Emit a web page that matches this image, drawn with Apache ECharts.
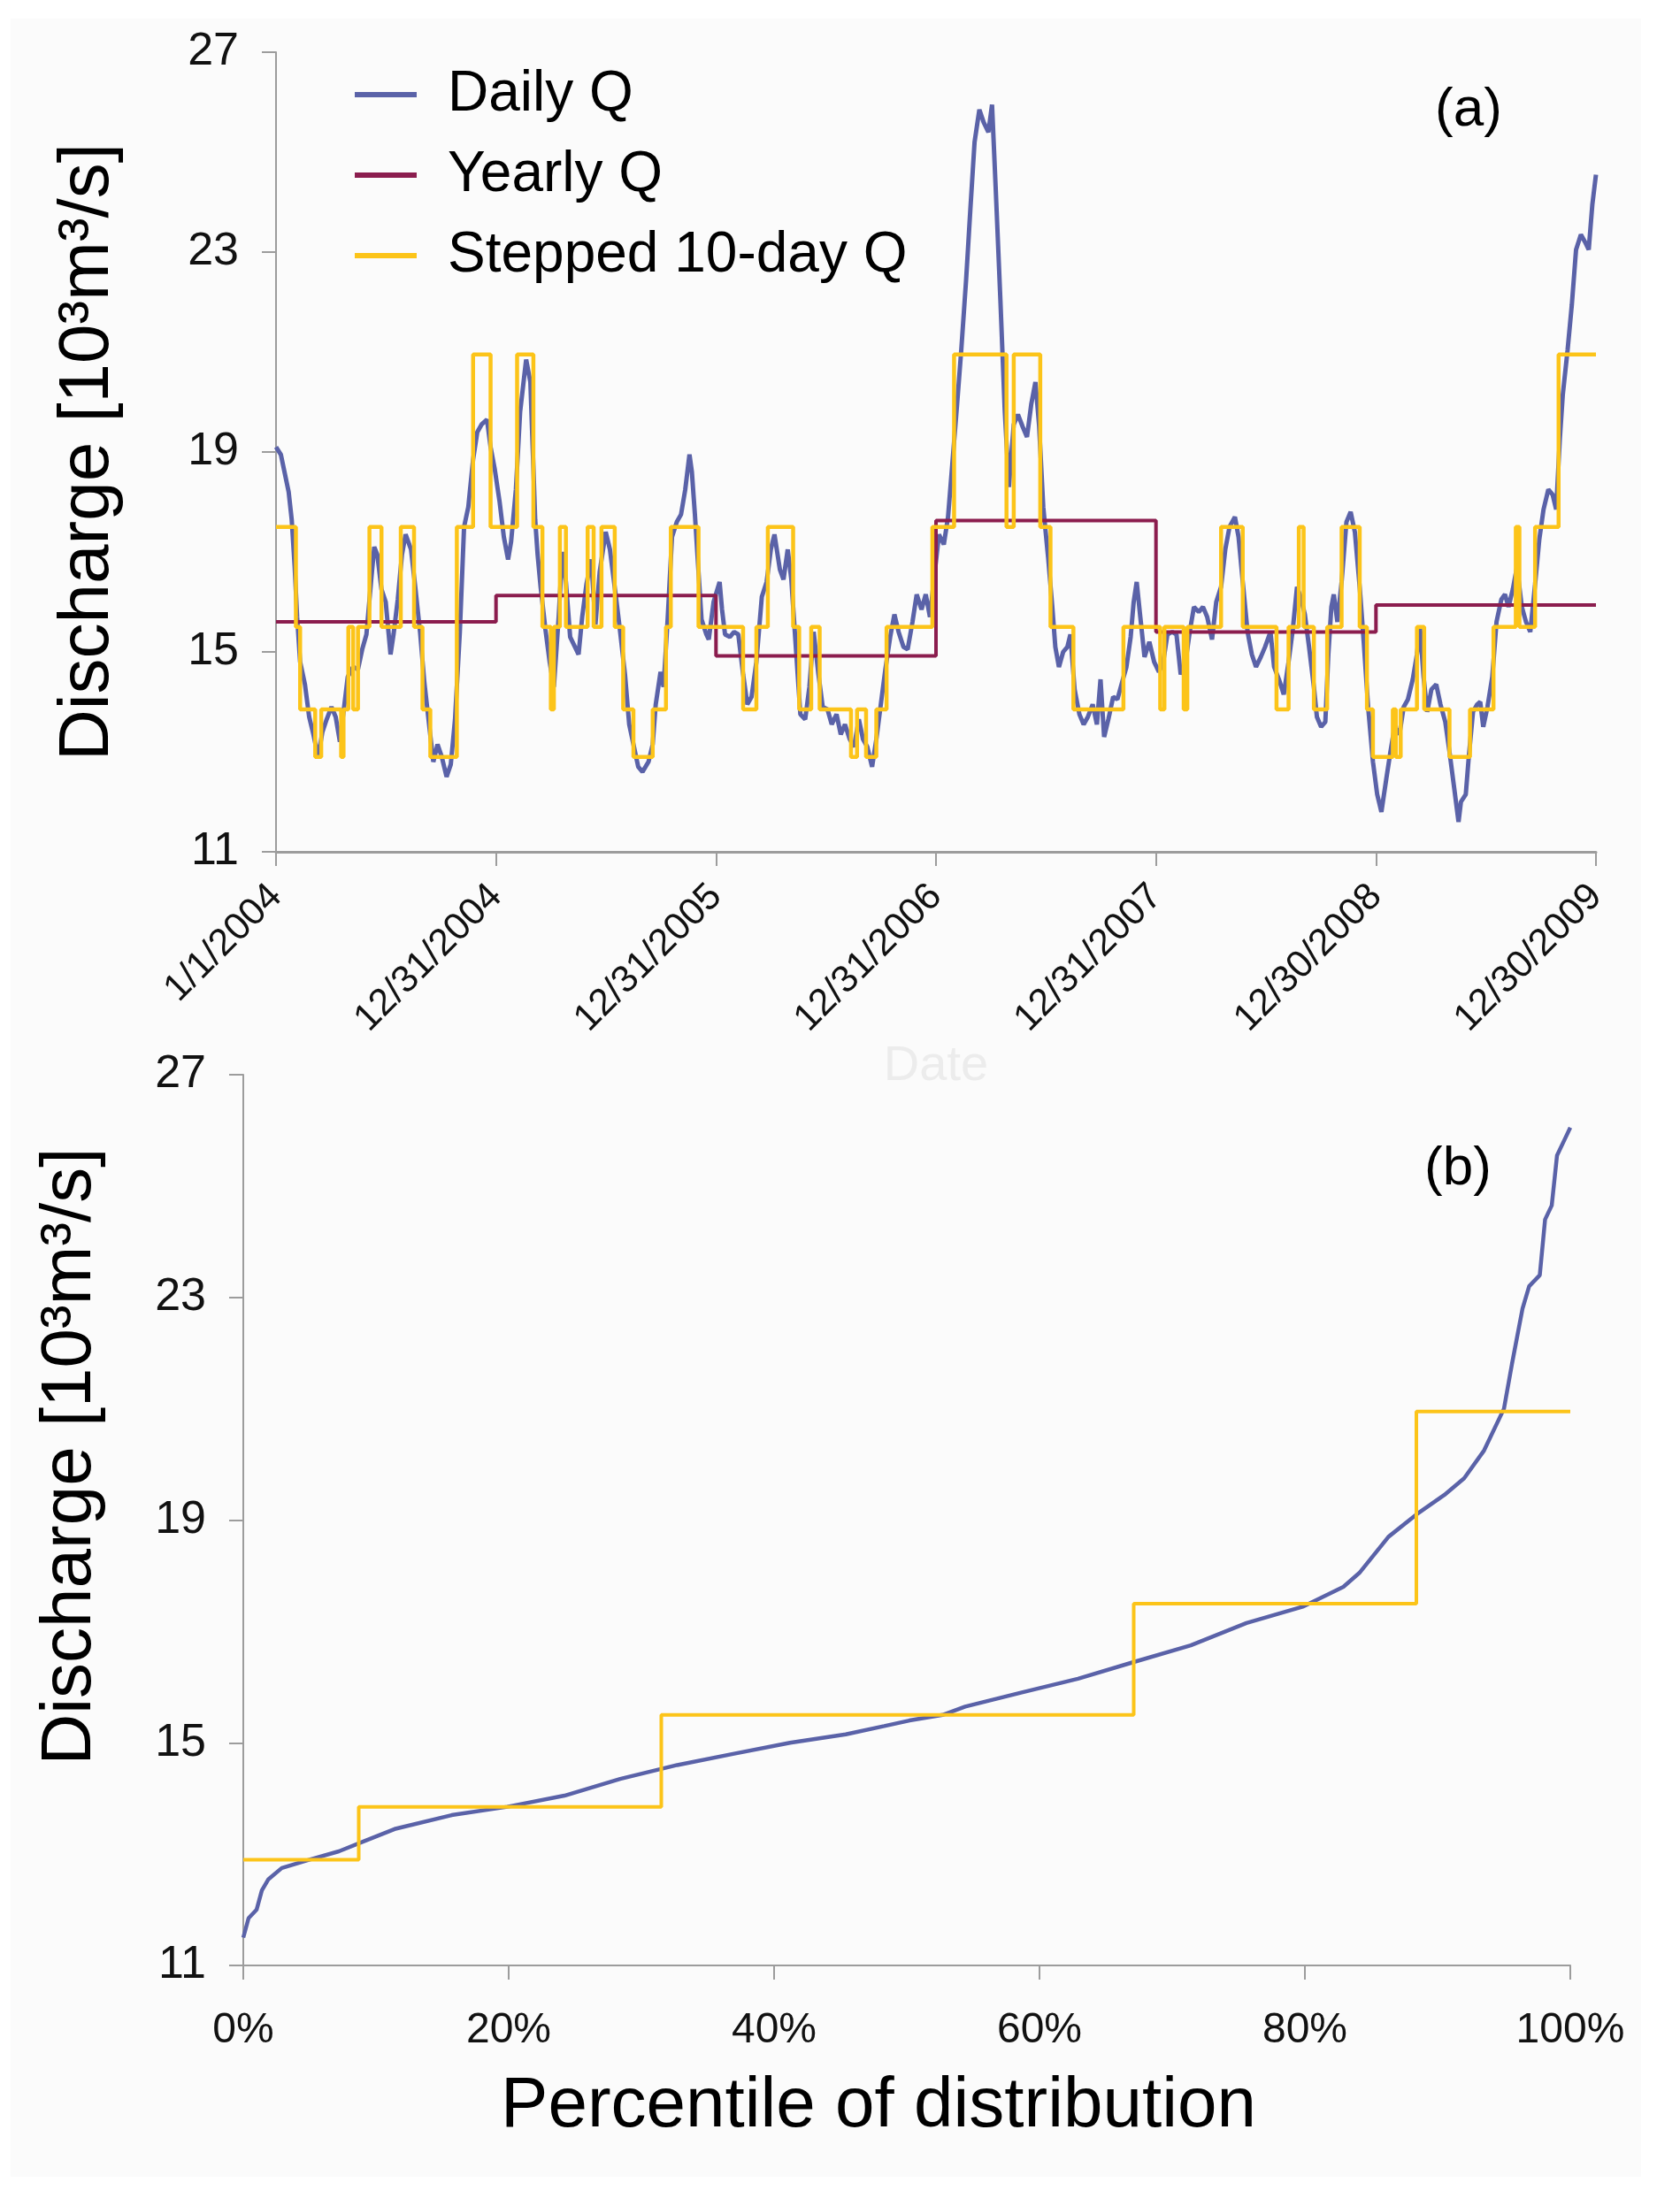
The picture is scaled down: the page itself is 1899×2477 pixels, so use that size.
<!DOCTYPE html>
<html>
<head>
<meta charset="utf-8">
<script src="https://cdn.jsdelivr.net/npm/echarts@6/dist/echarts.min.js"></script>
<style>
  html, body { margin: 0; padding: 0; background: #ffffff; }
  #chart { width: 1899px; height: 2477px; }
</style>
</head>
<body>
<div id="chart"></div>
<script>
// tick labels
var dateLabels = ['1/1/2004', '12/31/2004', '12/31/2005', '12/31/2006', '12/31/2007', '12/30/2008', '12/30/2009'];
var qTicks = [11, 15, 19, 23, 27];

// panel (a): [day since 1/1/2004, discharge 10^3 m3/s]
var dailyQ = [
  [0,19.1],[8,18.95],[21,18.2],[26,17.65],[31,16.7],[35,15.7],[40,14.8],[48,14.35],[55,13.7],[62,13.35],
  [70,12.9],[77,13.4],[84,13.65],[92,13.9],[99,13.7],[106,13.2],[111,13.7],[119,14.5],[128,14.7],[136,14.65],
  [143,15.05],[150,15.35],[158,16.45],[163,17.1],[168,16.95],[175,16.25],[182,16.0],[190,14.95],[195,15.35],
  [202,16.05],[209,16.95],[215,17.35],[224,17.05],[231,16.3],[239,15.4],[246,14.4],[253,13.65],[261,12.8],
  [268,13.15],[275,12.9],[283,12.5],[290,12.75],[297,13.65],[305,15.4],[312,17.5],[319,17.9],[327,18.85],
  [334,19.4],[341,19.55],[350,19.65],[356,19.1],[363,18.65],[371,18.0],[378,17.3],[385,16.85],[390,17.2],
  [398,18.25],[405,19.8],[415,20.85],[422,20.4],[427,18.7],[430,17.65],[434,16.95],[439,16.3],[447,15.45],
  [454,14.8],[461,14.3],[469,15.7],[475,17.0],[481,16.4],[488,15.3],[496,15.1],[502,14.95],[508,15.7],
  [515,16.35],[523,16.85],[530,15.55],[537,16.6],[547,17.4],[554,17.05],[564,16.1],[571,15.4],[579,14.55],
  [586,13.55],[593,13.15],[601,12.7],[608,12.6],[618,12.8],[625,13.15],[630,13.95],[638,14.6],[643,14.3],
  [650,15.7],[657,17.3],[665,17.6],[672,17.75],[679,18.25],[686,18.95],[690,18.6],[695,17.75],[701,16.6],
  [706,15.65],[714,15.35],[718,15.25],[726,16.0],[736,16.4],[740,15.85],[745,15.35],[753,15.3],[760,15.4],
  [767,15.35],[775,14.55],[782,13.95],[789,14.1],[797,14.8],[806,16.1],[814,16.4],[821,17.05],[827,17.35],
  [836,16.65],[842,16.45],[849,17.05],[855,16.45],[863,15.0],[870,13.75],[878,13.65],[885,14.3],[892,15.4],
  [900,14.55],[907,13.9],[915,13.85],[922,13.55],[930,13.75],[937,13.35],[944,13.55],[952,13.25],[959,13.1],
  [967,13.65],[974,13.25],[981,13.1],[989,12.7],[996,13.25],[1004,14.0],[1011,14.65],[1019,15.3],[1026,15.75],
  [1033,15.4],[1041,15.1],[1048,15.05],[1056,15.6],[1063,16.15],[1071,15.85],[1078,16.15],[1085,15.7],
  [1093,16.6],[1100,17.35],[1108,17.15],[1115,17.7],[1122,18.75],[1130,19.95],[1137,21.05],[1145,22.45],
  [1152,23.85],[1159,25.2],[1167,25.85],[1174,25.6],[1182,25.4],[1188,25.95],[1194,24.3],[1202,22.0],
  [1209,19.85],[1216,18.3],[1224,19.55],[1231,19.75],[1239,19.5],[1246,19.3],[1253,19.95],[1260,20.4],
  [1266,19.55],[1273,17.9],[1281,16.9],[1288,15.9],[1293,15.1],[1299,14.7],[1306,15.0],[1313,15.1],
  [1318,15.35],[1325,14.25],[1333,13.75],[1340,13.55],[1347,13.7],[1355,13.95],[1362,13.55],[1368,14.45],
  [1374,13.3],[1381,13.65],[1389,14.1],[1396,14.05],[1404,14.4],[1411,14.7],[1418,15.3],[1423,16.0],
  [1428,16.4],[1434,15.7],[1441,14.9],[1449,15.2],[1457,14.8],[1465,14.6],[1472,14.8],[1479,15.35],
  [1487,15.4],[1494,15.35],[1501,14.55],[1509,14.8],[1516,15.4],[1523,15.9],[1531,15.8],[1538,15.9],
  [1545,15.7],[1553,15.25],[1560,16.0],[1568,16.3],[1575,17.05],[1582,17.5],[1591,17.7],[1597,17.3],
  [1604,16.4],[1612,15.4],[1619,14.95],[1626,14.7],[1634,14.9],[1641,15.1],[1650,15.4],[1656,14.7],
  [1664,14.45],[1672,14.15],[1680,14.8],[1687,15.45],[1694,16.3],[1700,16.1],[1707,15.75],[1714,15.1],
  [1722,14.3],[1727,13.7],[1734,13.5],[1741,13.6],[1746,14.95],[1751,15.9],[1755,16.15],[1761,15.6],
  [1768,16.4],[1776,17.6],[1783,17.8],[1790,17.4],[1798,16.3],[1805,15.15],[1812,13.9],[1820,12.8],
  [1827,12.15],[1834,11.8],[1842,12.45],[1849,13.0],[1856,13.5],[1864,13.35],[1871,13.9],[1878,14.05],
  [1886,14.45],[1893,14.95],[1898,15.5],[1904,14.5],[1910,13.8],[1917,14.25],[1925,14.35],[1932,13.95],
  [1940,13.6],[1947,13.0],[1954,12.35],[1962,11.6],[1966,12.0],[1974,12.15],[1979,12.9],[1986,13.8],
  [1993,13.95],[1998,14.0],[2003,13.5],[2010,13.9],[2018,14.5],[2025,15.6],[2033,16.05],[2039,16.15],
  [2045,15.9],[2052,16.25],[2059,16.7],[2067,15.9],[2074,15.6],[2081,15.4],[2089,16.35],[2096,17.25],
  [2103,17.85],[2111,18.25],[2118,18.15],[2124,17.85],[2130,19.25],[2135,20.15],[2143,21.05],[2150,21.95],
  [2157,23.05],[2165,23.35],[2172,23.2],[2178,23.05],[2184,23.95],[2190,24.55]
];
var yearlyQ = [[0,15.6],[365,16.13],[730,14.92],[1095,17.63],[1460,15.4],[1825,15.94],[2190,15.94]];
var steppedQ = [
  [0,17.5],[33,15.5],[40,13.85],[65,12.9],[75,13.85],[108,12.9],[112,13.85],[120,15.5],[128,13.85],[136,15.5],
  [155,17.5],[175,15.5],[207,17.5],[229,15.5],[243,13.85],[256,12.9],[300,17.5],[327,20.95],[356,17.5],
  [400,20.95],[427,17.5],[442,15.5],[456,13.85],[461,15.5],[471,17.5],[481,15.5],[517,17.5],[527,15.5],
  [540,17.5],[562,15.5],[576,13.85],[593,12.9],[625,13.85],[647,15.5],[655,17.5],[701,15.5],[775,13.85],
  [797,15.5],[816,17.5],[858,15.5],[868,13.85],[888,15.5],[902,13.85],[954,12.9],[964,13.85],[979,12.9],
  [996,13.85],[1013,15.5],[1089,17.5],[1125,20.95],[1212,17.5],[1224,20.95],[1268,17.5],[1285,15.5],
  [1323,13.85],[1406,15.5],[1467,13.85],[1474,15.5],[1506,13.85],[1512,15.5],[1568,17.5],[1604,15.5],
  [1660,13.85],[1680,15.5],[1697,17.5],[1705,15.5],[1722,13.85],[1744,15.5],[1768,17.5],[1798,15.5],
  [1810,13.85],[1820,12.9],[1853,13.85],[1858,12.9],[1866,13.85],[1893,15.5],[1905,13.85],[1947,12.9],
  [1981,13.85],[2020,15.5],[2057,17.5],[2063,15.5],[2089,17.5],[2128,20.95],[2190,20.95]
];

// panel (b): [percentile, discharge]
var durationQ = [
  [0,11.5],[0.4,11.85],[1.0,12.0],[1.4,12.35],[1.9,12.55],[2.9,12.75],[5.0,12.9],[7.2,13.05],[9.3,13.25],
  [11.4,13.45],[15.7,13.7],[19.9,13.85],[24.2,14.05],[28.4,14.35],[32.7,14.6],[36.9,14.8],[41.2,15.0],
  [45.4,15.15],[48.3,15.3],[50.2,15.4],[52.7,15.5],[54.4,15.65],[58.6,15.9],[62.9,16.15],[67.1,16.45],
  [71.4,16.75],[75.6,17.15],[79.9,17.45],[82.9,17.8],[84.1,18.05],[86.3,18.7],[88.4,19.1],[90.5,19.45],
  [92.0,19.75],[93.5,20.25],[95.0,21.0],[95.6,21.8],[96.4,22.8],[96.9,23.2],[97.7,23.4],[98.1,24.4],
  [98.6,24.65],[99.0,25.55],[99.6,25.85],[100,26.05]
];
var durationStep = [[0,12.9],[8.7,13.85],[31.5,15.5],[67.1,17.5],[88.4,20.95],[100,20.95]];

var FONT = 'Liberation Sans, Arial, sans-serif';
var BLUE = '#5a62a8', MAROON = '#8b1d4e', GOLD = '#fcc419', AXIS = '#9c9c9c';

function yAxisFor(gridIndex, gap, shift) {
  return {
    type: 'value', gridIndex: gridIndex, min: 11, max: 27,
    name: 'Discharge [10³m³/s]',
    nameLocation: 'middle', nameRotate: 90, nameGap: gap,
    nameTextStyle: {fontFamily: FONT, fontSize: 80, color: '#000', padding: [0, 0, 0, shift]},
    axisLine: {show: true, lineStyle: {color: AXIS, width: 2}},
    axisTick: {show: true, length: 16, customValues: qTicks, lineStyle: {color: AXIS, width: 2}},
    axisLabel: {customValues: qTicks, margin: 42, fontFamily: FONT, fontSize: 52, color: '#111'},
    splitLine: {show: false}
  };
}

var option = {
  backgroundColor: '#ffffff',
  animation: false,
  textStyle: {fontFamily: FONT},
  graphic: [
    {type: 'rect', z: -10, shape: {x: 12, y: 21, width: 1843, height: 2440}, style: {fill: '#fbfbfb'}},
    {type: 'text', x: 1660, y: 125, style: {text: '(a)', fontFamily: FONT, fontSize: 62, fill: '#000', align: 'center', verticalAlign: 'middle'}},
    {type: 'text', x: 1648, y: 1322, style: {text: '(b)', fontFamily: FONT, fontSize: 62, fill: '#000', align: 'center', verticalAlign: 'middle'}}
  ],
  legend: {
    orient: 'vertical', left: 396, top: 70,
    itemWidth: 70, itemHeight: 6, itemGap: 27, icon: 'rect',
    textStyle: {fontFamily: FONT, fontSize: 64, lineHeight: 64, color: '#000', padding: [0, 0, 0, 30]},
    data: ['Daily Q', 'Yearly Q', 'Stepped 10-day Q']
  },
  grid: [
    {left: 312, top: 59, width: 1492, height: 904},
    {left: 275, top: 1215, width: 1500, height: 1007}
  ],
  xAxis: [
    {
      type: 'value', gridIndex: 0, min: 0, max: 2190, interval: 365,
      name: 'Date', nameLocation: 'middle', nameGap: 212,
      nameTextStyle: {fontFamily: FONT, fontSize: 56, color: '#ececec'},
      axisLine: {show: true, lineStyle: {color: AXIS, width: 3}},
      axisTick: {show: true, length: 16, lineStyle: {color: AXIS, width: 2}},
      axisLabel: {
        rotate: 45, margin: 44, fontFamily: FONT, fontSize: 43, color: '#111',
        formatter: function (v) { return dateLabels[Math.round(v / 365)]; }
      },
      splitLine: {show: false}
    },
    {
      type: 'value', gridIndex: 1, min: 0, max: 100, interval: 20,
      name: 'Percentile of distribution', nameLocation: 'middle', nameGap: 120,
      nameTextStyle: {fontFamily: FONT, fontSize: 80, color: '#000', padding: [0, 64, 0, 0]},
      axisLine: {show: true, lineStyle: {color: AXIS, width: 2}},
      axisTick: {show: true, length: 16, lineStyle: {color: AXIS, width: 2}},
      axisLabel: {margin: 50, fontFamily: FONT, fontSize: 48, color: '#111', formatter: '{value}%'},
      splitLine: {show: false}
    }
  ],
  yAxis: [yAxisFor(0, 172, 0), yAxisFor(1, 155, 144)],
  series: [
    {name: 'Daily Q', type: 'line', xAxisIndex: 0, yAxisIndex: 0, data: dailyQ, symbol: 'none',
      lineStyle: {color: BLUE, width: 5}, itemStyle: {color: BLUE}, z: 2},
    {name: 'Yearly Q', type: 'line', xAxisIndex: 0, yAxisIndex: 0, data: yearlyQ, step: 'end', symbol: 'none',
      lineStyle: {color: MAROON, width: 4}, itemStyle: {color: MAROON}, z: 3},
    {name: 'Stepped 10-day Q', type: 'line', xAxisIndex: 0, yAxisIndex: 0, data: steppedQ, step: 'end', symbol: 'none',
      lineStyle: {color: GOLD, width: 4.5}, itemStyle: {color: GOLD}, z: 4},
    {name: 'Daily Q', type: 'line', xAxisIndex: 1, yAxisIndex: 1, data: durationQ, symbol: 'none',
      lineStyle: {color: BLUE, width: 4.5}, itemStyle: {color: BLUE}, z: 2},
    {name: 'Stepped 10-day Q', type: 'line', xAxisIndex: 1, yAxisIndex: 1, data: durationStep, step: 'end', symbol: 'none',
      lineStyle: {color: GOLD, width: 4}, itemStyle: {color: GOLD}, z: 4}
  ]
};

var myChart = echarts.init(document.getElementById('chart'));
myChart.setOption(option, true);
</script>
</body>
</html>
